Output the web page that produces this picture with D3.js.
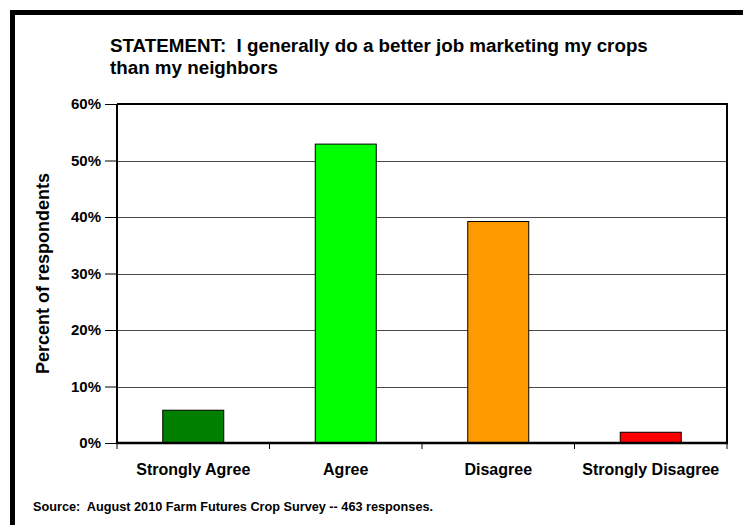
<!DOCTYPE html>
<html>
<head>
<meta charset="utf-8">
<script src="https://cdn.jsdelivr.net/npm/d3@7"></script>
<style>
  html, body { margin: 0; padding: 0; background: #fff; }
  svg { display: block; }
  text { font-family: Arial, "Liberation Sans", sans-serif; font-weight: bold; fill: #000; white-space: pre; }
</style>
</head>
<body>
<script>
// Survey answers and share of respondents (%)
const categories = ["Strongly Agree", "Agree", "Disagree", "Strongly Disagree"];
const values = [5.8, 52.9, 39.2, 1.9];
const barColors = ["#008000", "#00FF00", "#FF9900", "#FF0000"];
const yTicks = [0, 10, 20, 30, 40, 50, 60];
const titleLines = ["STATEMENT:  I generally do a better job marketing my crops", "than my neighbors"];
const yTitle = "Percent of respondents";
const sourceNote = "Source:  August 2010 Farm Futures Crop Survey -- 463 responses.";

const W = 743, H = 525;
const plot = { left: 117, right: 727, top: 104, bottom: 443 };

const svg = d3.select("body").append("svg").attr("width", W).attr("height", H);

// Outer frame (runs off the right and bottom edges)
svg.append("rect")
  .attr("x", 12.5).attr("y", 12.5)
  .attr("width", W + 20).attr("height", H + 20)
  .attr("fill", "#fff").attr("stroke", "#000").attr("stroke-width", 5);

const x = d3.scaleBand().domain(categories).range([plot.left, plot.right]).paddingInner(0).paddingOuter(0);
const y = d3.scaleLinear().domain([0, 60]).range([plot.bottom, plot.top]);

// Horizontal gridlines
svg.append("g").selectAll("line").data(yTicks.filter(t => t > 0 && t < 60)).join("line")
  .attr("x1", plot.left).attr("x2", plot.right)
  .attr("y1", d => Math.round(y(d)) + 0.5).attr("y2", d => Math.round(y(d)) + 0.5)
  .attr("stroke", "#4a4a4a").attr("stroke-width", 1);

// Top and right edges of the plot area
svg.append("path")
  .attr("d", `M${plot.left},${plot.top}H${plot.right}V${plot.bottom}`)
  .attr("fill", "none").attr("stroke", "#000").attr("stroke-width", 2);

// Bars
const barW = x.bandwidth() * 0.4;
svg.append("g").selectAll("rect").data(categories).join("rect")
  .attr("x", (d) => x(d) + (x.bandwidth() - barW) / 2)
  .attr("y", (d, i) => y(values[i]))
  .attr("width", barW)
  .attr("height", (d, i) => y(0) - y(values[i]))
  .attr("fill", (d, i) => barColors[i])
  .attr("stroke", "#000").attr("stroke-width", 1);

// Y axis
const yAxis = d3.axisLeft(y).tickValues(yTicks).tickFormat(d => d + "%").tickSize(12).tickPadding(4);
const gy = svg.append("g").attr("transform", `translate(${plot.left},0)`).call(yAxis);
gy.select(".domain").attr("stroke", "#000").attr("stroke-width", 2).attr("d", `M0,${plot.top}V${plot.bottom}`);
gy.selectAll(".tick line").attr("stroke", "#000").attr("stroke-width", 1);
gy.selectAll(".tick text").attr("font-size", 15).attr("font-family", "Arial, 'Liberation Sans', sans-serif").attr("font-weight", "bold").attr("fill", "#000");

// X axis: ticks at category boundaries
svg.append("line")
  .attr("x1", plot.left - 1).attr("x2", plot.right + 1)
  .attr("y1", plot.bottom).attr("y2", plot.bottom)
  .attr("stroke", "#000").attr("stroke-width", 2.5);
const bounds = categories.map(c => x(c)).concat([x(categories[categories.length - 1]) + x.bandwidth()]);
svg.append("g").selectAll("line").data(bounds).join("line")
  .attr("x1", d => d).attr("x2", d => d)
  .attr("y1", plot.bottom).attr("y2", plot.bottom + 6)
  .attr("stroke", "#000").attr("stroke-width", 1);
svg.append("g").selectAll("text").data(categories).join("text")
  .attr("x", d => x(d) + x.bandwidth() / 2)
  .attr("y", 475)
  .attr("text-anchor", "middle")
  .attr("font-size", 16)
  .text(d => d);

// Y axis title
svg.append("text")
  .attr("transform", `translate(49,${(plot.top + plot.bottom) / 2}) rotate(-90)`)
  .attr("text-anchor", "middle")
  .attr("font-size", 18)
  .text(yTitle);

// Chart title
svg.append("g").selectAll("text").data(titleLines).join("text")
  .attr("x", 110)
  .attr("y", (d, i) => 52 + i * 22)
  .attr("font-size", 18.8)
  .text(d => d);

// Source note
svg.append("text")
  .attr("x", 33).attr("y", 511)
  .attr("font-size", 12.7)
  .text(sourceNote);
</script>
</body>
</html>
